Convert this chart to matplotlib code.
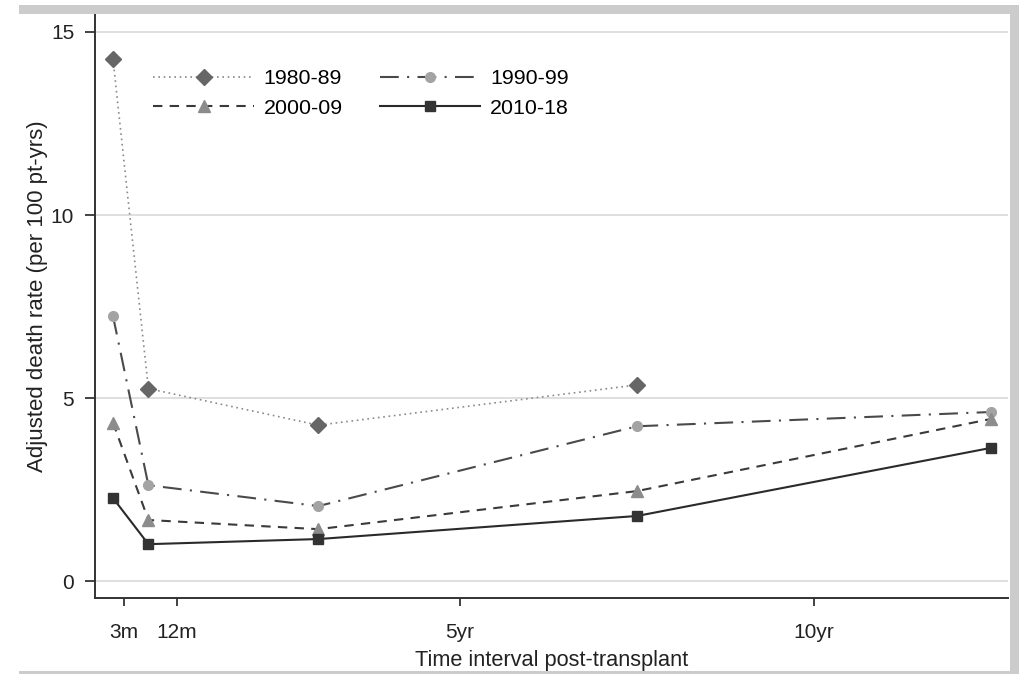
import numpy as np
import matplotlib.pyplot as plt
from matplotlib.patches import Rectangle

plt.rcParams['font.family'] = ['Liberation Sans', 'DejaVu Sans']

# time interval midpoints (years)
x_pts = [0.1, 0.6, 3.0, 7.5, 12.5]

# adjusted death rates per 100 pt-yrs
r_1980 = [14.26, 5.26, 4.26, 5.36]
r_1990 = [7.24, 2.62, 2.05, 4.23, 4.62]
r_2000 = [4.33, 1.67, 1.42, 2.46, 4.43]
r_2010 = [2.27, 1.01, 1.15, 1.78, 3.64]

xtick_pos = [0.25, 1, 5, 10]
xtick_lab = ['3m', '12m', '5yr', '10yr']
ytick_pos = [0, 5, 10, 15]

fig = plt.figure(figsize=(10.2, 6.74), dpi=100)
ax = fig.add_axes([95/1020, 1-598/674, (1008-95)/1020, (598-14)/674])

# grey outer frame (cropped graph region)
W, H = 1020, 674
fig.patches.append(Rectangle((19/W, 1-14/H), 1-19/W, 9/H, transform=fig.transFigure,
                             color='#cccccc', lw=0, zorder=0))
fig.patches.append(Rectangle((1010/W, 0), 9/W, 1-5/H, transform=fig.transFigure,
                             color='#cccccc', lw=0, zorder=0))
fig.patches.append(Rectangle((19/W, 0), 1-19/W, 3/H, transform=fig.transFigure,
                             color='#cccccc', lw=0, zorder=0))

for y in ytick_pos:
    ax.axhline(y, color='#dcdcdc', lw=1.3, zorder=0)

l1, = ax.plot(x_pts[:4], r_1980, color='#8a8a8a', ls=(0, (1, 2.2)), lw=1.2,
              marker='D', ms=8, mfc='#666666', mec='#666666', label='1980-89')
l2, = ax.plot(x_pts, r_1990, color='#4a4a4a', ls=(0, (9, 4, 1, 4)), lw=1.5,
              marker='o', ms=7, mfc='#a3a3a3', mec='#a3a3a3', label='1990-99')
l3, = ax.plot(x_pts, r_2000, color='#3a3a3a', ls=(0, (4.5, 3.5)), lw=1.5,
              marker='^', ms=8, mfc='#8c8c8c', mec='#8c8c8c', label='2000-09')
l4, = ax.plot(x_pts, r_2010, color='#2a2a2a', ls='-', lw=1.5,
              marker='s', ms=7, mfc='#333333', mec='#333333', label='2010-18')

ax.set_xlim(-0.154, 12.74)
ax.set_ylim(-0.46, 15.49)
ax.set_xticks(xtick_pos)
ax.set_xticklabels(xtick_lab)
ax.set_yticks(ytick_pos)
ax.tick_params(axis='both', labelsize=15, colors='#222222', width=1.2)
ax.tick_params(axis='x', length=6, pad=12)
ax.tick_params(axis='y', length=7, pad=8)

for s in ['top', 'right']:
    ax.spines[s].set_visible(False)
for s in ['left', 'bottom']:
    ax.spines[s].set_linewidth(1.4)
    ax.spines[s].set_color('#333333')

ax.set_ylabel('Adjusted death rate (per 100 pt-yrs)', fontsize=16, color='#222222', labelpad=2)
ax.yaxis.label.set_y((598 - 296) / 584)
ax.set_xlabel('Time interval post-transplant', fontsize=15.7, color='#222222', labelpad=6)

ax.legend(handles=[l1, l3, l2, l4], ncol=2, frameon=False, fontsize=15.4,
          loc='upper left', bbox_to_anchor=(134/1020, 1-50/674), bbox_transform=fig.transFigure,
          handlelength=4.7, columnspacing=1.75, handletextpad=0.45, labelspacing=0.5)

fig.savefig('out.png', dpi=100)
